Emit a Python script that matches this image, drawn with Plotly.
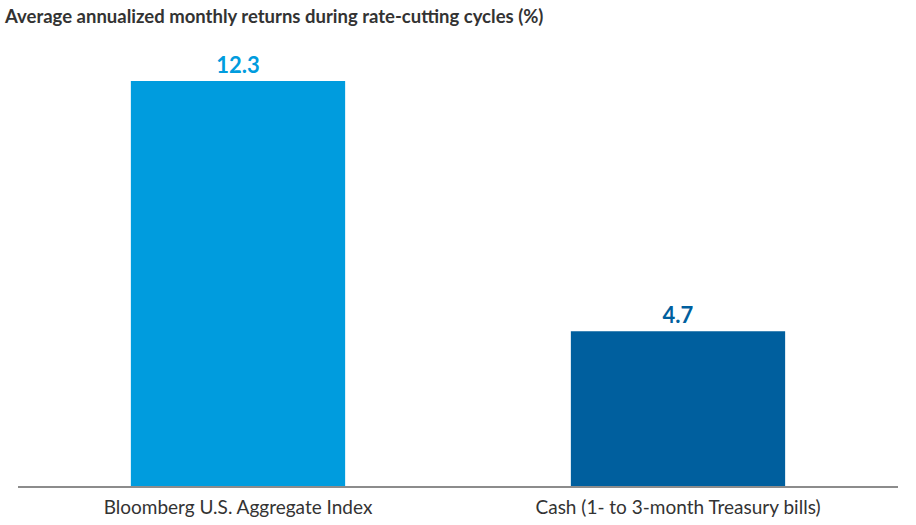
import plotly.graph_objects as go

# data
categories = ["Bloomberg U.S. Aggregate Index", "Cash (1- to 3-month Treasury bills)"]
returns = [12.3, 4.7]
labels = ["<b>12.3</b>", "<b>4.7</b>"]
bar_colors = ["#009CDE", "#005F9E"]

fig = go.Figure()
fig.add_trace(go.Bar(
    x=categories,
    y=returns,
    text=labels,
    textposition="outside",
    textfont=dict(family="Lato", size=22, color=bar_colors),
    marker=dict(color=bar_colors, line=dict(width=0)),
    cliponaxis=False,
    hoverinfo="skip",
))

fig.update_layout(
    width=916,
    height=525,
    margin=dict(l=18, r=18, t=25, b=39),
    paper_bgcolor="white",
    plot_bgcolor="white",
    bargap=0.513,
    showlegend=False,
    font=dict(family="Lato", color="#333333"),
    title=dict(
        text="<b>Average annualized monthly returns during rate-cutting cycles (%)</b>",
        font=dict(family="Lato", size=18.5, color="#333333"),
        xref="container", x=5 / 916,
        yref="container", y=1 - 17 / 525,
        xanchor="left", yanchor="middle",
    ),
)
fig.update_xaxes(
    showline=True, linecolor="#8c8c8c", linewidth=1.5,
    ticks="", ticklabelstandoff=3, automargin=False,
    tickfont=dict(family="Lato", size=19, color="#333333"),
    showgrid=False,
)
fig.update_yaxes(range=[0, 14], visible=False, showgrid=False)

# page body has an 8px default margin, drop it so the figure sits at 0,0
fig.write_html("out.html", config={"displayModeBar": False},
               post_script="document.body.style.margin='0px';")
